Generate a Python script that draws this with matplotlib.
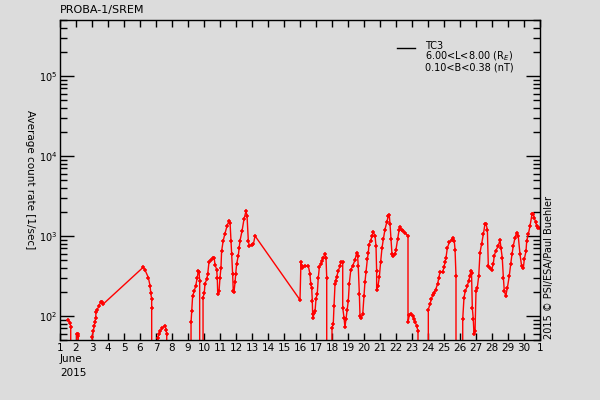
import matplotlib
matplotlib.use("Agg")
import matplotlib.pyplot as plt
from matplotlib.ticker import LogLocator, FixedLocator, NullFormatter
import numpy as np

# time in days of June 2015, log10(count rate); None = no counts (drops off the axis)
days = [1.52, 1.625, 1.67, 1.67,
        2.0, 2.04, 2.1, 2.14, 2.16,
        2.98, 3.02, 3.08, 3.14, 3.19, 3.23, 3.25, 3.33, 3.44, 3.54, 3.6, 3.71,
        6.21, 6.31, 6.52, 6.63, 6.67, 6.73, 6.73, 6.74,
        7.06, 7.11, 7.19, 7.27, 7.39, 7.56, 7.63, 7.67, 7.68,
        9.13, 9.19, 9.23, 9.29, 9.39, 9.48, 9.58, 9.64, 9.69, 9.73, 9.74,
        9.9, 9.94, 10.02, 10.06, 10.17, 10.23, 10.31, 10.44, 10.54, 10.63, 10.69,
        10.79, 10.83, 10.86, 10.94, 11.0, 11.06, 11.1, 11.2, 11.31, 11.44, 11.56,
        11.63, 11.69, 11.73, 11.79, 11.83, 11.875, 11.94, 11.98, 12.04, 12.14,
        12.2, 12.25, 12.375, 12.5, 12.625, 12.69, 12.77, 12.83, 12.98, 13.09, 13.19,
        16.0,
        16.06, 16.1, 16.14, 16.31, 16.52, 16.625, 16.67, 16.73, 16.77, 16.79, 16.83,
        16.875, 16.94, 17.0, 17.08, 17.14, 17.21, 17.29, 17.375, 17.46, 17.56,
        17.625, 17.67, 17.7,
        17.98, 18.0, 18.08, 18.125, 18.19, 18.23, 18.29, 18.39, 18.5, 18.56, 18.67,
        18.67, 18.75, 18.81, 18.875, 18.96, 19.02, 19.08, 19.17, 19.29, 19.44, 19.54,
        19.6, 19.64, 19.71, 19.75, 19.81, 19.92, 20.0, 20.06, 20.125, 20.21, 20.27,
        20.31, 20.42, 20.5, 20.58, 20.69, 20.75, 20.79, 20.79, 20.875, 20.96, 21.04,
        21.125, 21.21, 21.31, 21.42, 21.52, 21.58, 21.625, 21.69, 21.75, 21.83, 21.94,
        22.0, 22.1, 22.19, 22.25, 22.35, 22.46, 22.56, 22.75, 22.75, 22.83, 22.96,
        23.04, 23.125, 23.21, 23.29, 23.375, 23.4,
        24.0, 24.02, 24.125, 24.21, 24.29, 24.375, 24.48, 24.6, 24.67, 24.75, 24.92,
        25.0, 25.06, 25.125, 25.21, 25.33, 25.48, 25.58, 25.64, 25.69, 25.75, 25.76,
        26.06, 26.17, 26.25, 26.33, 26.46, 26.54, 26.625, 26.67, 26.72, 26.77, 26.83,
        26.875, 26.94, 27.0, 27.08, 27.17, 27.25, 27.35, 27.46, 27.56, 27.625, 27.71,
        27.77, 27.875, 27.98, 28.08, 28.14, 28.23, 28.39, 28.5, 28.56, 28.64, 28.71,
        28.77, 28.86, 28.96, 29.08, 29.17, 29.25, 29.33, 29.44, 29.54, 29.64, 29.75,
        29.85, 29.96, 30.02, 30.125, 30.17, 30.27, 30.375, 30.5, 30.58, 30.64, 30.73,
        30.79, 30.9, 31.0]

log_rate = [1.95, 1.916, 1.866, None,
            None, 1.78, 1.77, 1.75, None,
            None, 1.74, 1.81, 1.875, 1.93, 1.975, 2.05, 2.08, 2.125, 2.175, 2.17, 2.15,
            2.61, 2.575, 2.48, 2.375, 2.29, 2.21, 2.10, None,
            None, 1.73, 1.77, 1.81, 1.85, 1.88, 1.83, 1.77, None,
            None, 1.92, 2.06, 2.25, 2.31, 2.375, 2.48, 2.56, 2.55, 2.44, None,
            None, 2.23, 2.29, 2.40, 2.46, 2.52, 2.67, 2.70, 2.72, 2.73, 2.64,
            2.58, 2.48, 2.27, 2.31, 2.48, 2.60, 2.81, 2.94, 3.03, 3.125, 3.19,
            3.16, 2.94, 2.77, 2.52, 2.31, 2.30, 2.42, 2.52, 2.65, 2.75,
            2.85, 2.94, 3.06, 3.21, 3.31, 3.25, 2.94, 2.875, 2.89, 2.90, 3.0,
            2.2,
            2.675, 2.625, 2.60, 2.62, 2.625, 2.52, 2.40, 2.35, 2.19, 2.02, 1.98,
            2.04, 2.06, 2.21, 2.28, 2.47, 2.61, 2.65, 2.69, 2.73, 2.77,
            2.73, 2.48, None,
            None, 1.85, 1.90, 2.125, 2.40, 2.44, 2.49, 2.56, 2.625, 2.68, 2.67,
            2.10, 1.98, 1.86, 1.96, 2.08, 2.19, 2.40, 2.57, 2.625, 2.70, 2.79,
            2.75, 2.625, 2.27, 2.0, 1.97, 2.02, 2.25, 2.425, 2.55, 2.71, 2.79,
            2.89, 2.94, 3.0, 3.05, 3.0, 2.875, 2.56, 2.32, 2.375, 2.49, 2.675,
            2.85, 2.96, 3.08, 3.17, 3.25, 3.26, 3.15, 2.96, 2.77, 2.75, 2.77,
            2.83, 2.96, 3.07, 3.11, 3.08, 3.06, 3.04, 3.0, 1.92, 2.01, 2.02,
            2.0, 1.96, 1.92, 1.875, 1.81, None,
            None, 2.08, 2.15, 2.21, 2.26, 2.29, 2.33, 2.40, 2.47, 2.55, 2.55,
            2.61, 2.67, 2.73, 2.85, 2.92, 2.95, 2.97, 2.94, 2.83, 2.5, None,
            None, 1.96, 2.23, 2.31, 2.375, 2.44, 2.5, 2.56, 2.54, 2.10, 1.96,
            1.77, 1.81, 2.31, 2.35, 2.5, 2.79, 2.90, 3.02, 3.15, 3.15, 3.08,
            2.625, 2.60, 2.58, 2.65, 2.75, 2.81, 2.875, 2.95, 2.85, 2.73, 2.48,
            2.31, 2.25, 2.35, 2.5, 2.65, 2.77, 2.875, 2.98, 3.04, 3.0, 2.77,
            2.625, 2.60, 2.71, 2.81, 2.94, 3.02, 3.125, 3.27, 3.28, 3.23, 3.17,
            3.125, 3.10, 3.10]

rate = [0.0 if v is None else 10 ** v for v in log_rate]

day_ticks = list(range(1, 32))
day_labels = [str(d) for d in range(1, 31)] + ["1"]

bg = "#dcdcdc"
fig = plt.figure(figsize=(6, 4), dpi=100, facecolor=bg)
ax = fig.add_axes([0.1, 0.15, 0.8, 0.8], facecolor=bg)

ax.plot(days, rate, color="#ff0000", lw=1.0, marker="+", ms=3, mew=1.1)

ax.set_yscale("log", nonpositive="clip")
ax.set_ylim(50, 5e5)
ax.set_xlim(1, 31)

ax.xaxis.set_major_locator(FixedLocator(day_ticks))
ax.set_xticklabels(day_labels)
ax.yaxis.set_major_locator(LogLocator(base=10, numticks=10))
ax.yaxis.set_minor_locator(LogLocator(base=10, subs=np.arange(2, 10), numticks=10))
ax.yaxis.set_minor_formatter(NullFormatter())

ax.tick_params(axis="x", which="major", direction="in", length=5, width=1,
               top=True, labelsize=7.5, pad=2)
ax.tick_params(axis="y", which="major", direction="in", length=10, width=1,
               right=True, labelsize=7, pad=2)
ax.tick_params(axis="y", which="minor", direction="in", length=5, width=1,
               right=True)
for s in ax.spines.values():
    s.set_linewidth(1)
    s.set_color("black")

fig.text(60 / 600, 1 - 10 / 400, "PROBA-1/SREM", fontsize=8, ha="left", va="center")
fig.text(30 / 600, 1 - 180 / 400, "Average count rate [1/sec]", rotation=270,
         fontsize=7.5, ha="center", va="center")
fig.text(60 / 600, 1 - 359 / 400, "June", fontsize=7.5, ha="left", va="center")
fig.text(60 / 600, 1 - 373 / 400, "2015", fontsize=7.5, ha="left", va="center")
fig.text(549 / 600, 1 - 339 / 400, "2015 \u00a9 PSI/ESA/Paul Buehler", rotation=90,
         fontsize=7, ha="center", va="bottom")

# legend
fig.add_artist(plt.Line2D([397 / 600, 415 / 600], [1 - 48 / 400, 1 - 48 / 400],
                          color="black", lw=1, transform=fig.transFigure))
fig.text(425 / 600, 1 - 46 / 400, "TC3", fontsize=7, ha="left", va="center")
fig.text(425 / 600, 1 - 56.5 / 400, "6.00<L<8.00 (R$_E$)", fontsize=7, ha="left", va="center")
fig.text(425 / 600, 1 - 68 / 400, "0.10<B<0.38 (nT)", fontsize=7, ha="left", va="center")

fig.savefig("out.png", dpi=100, facecolor=bg)
